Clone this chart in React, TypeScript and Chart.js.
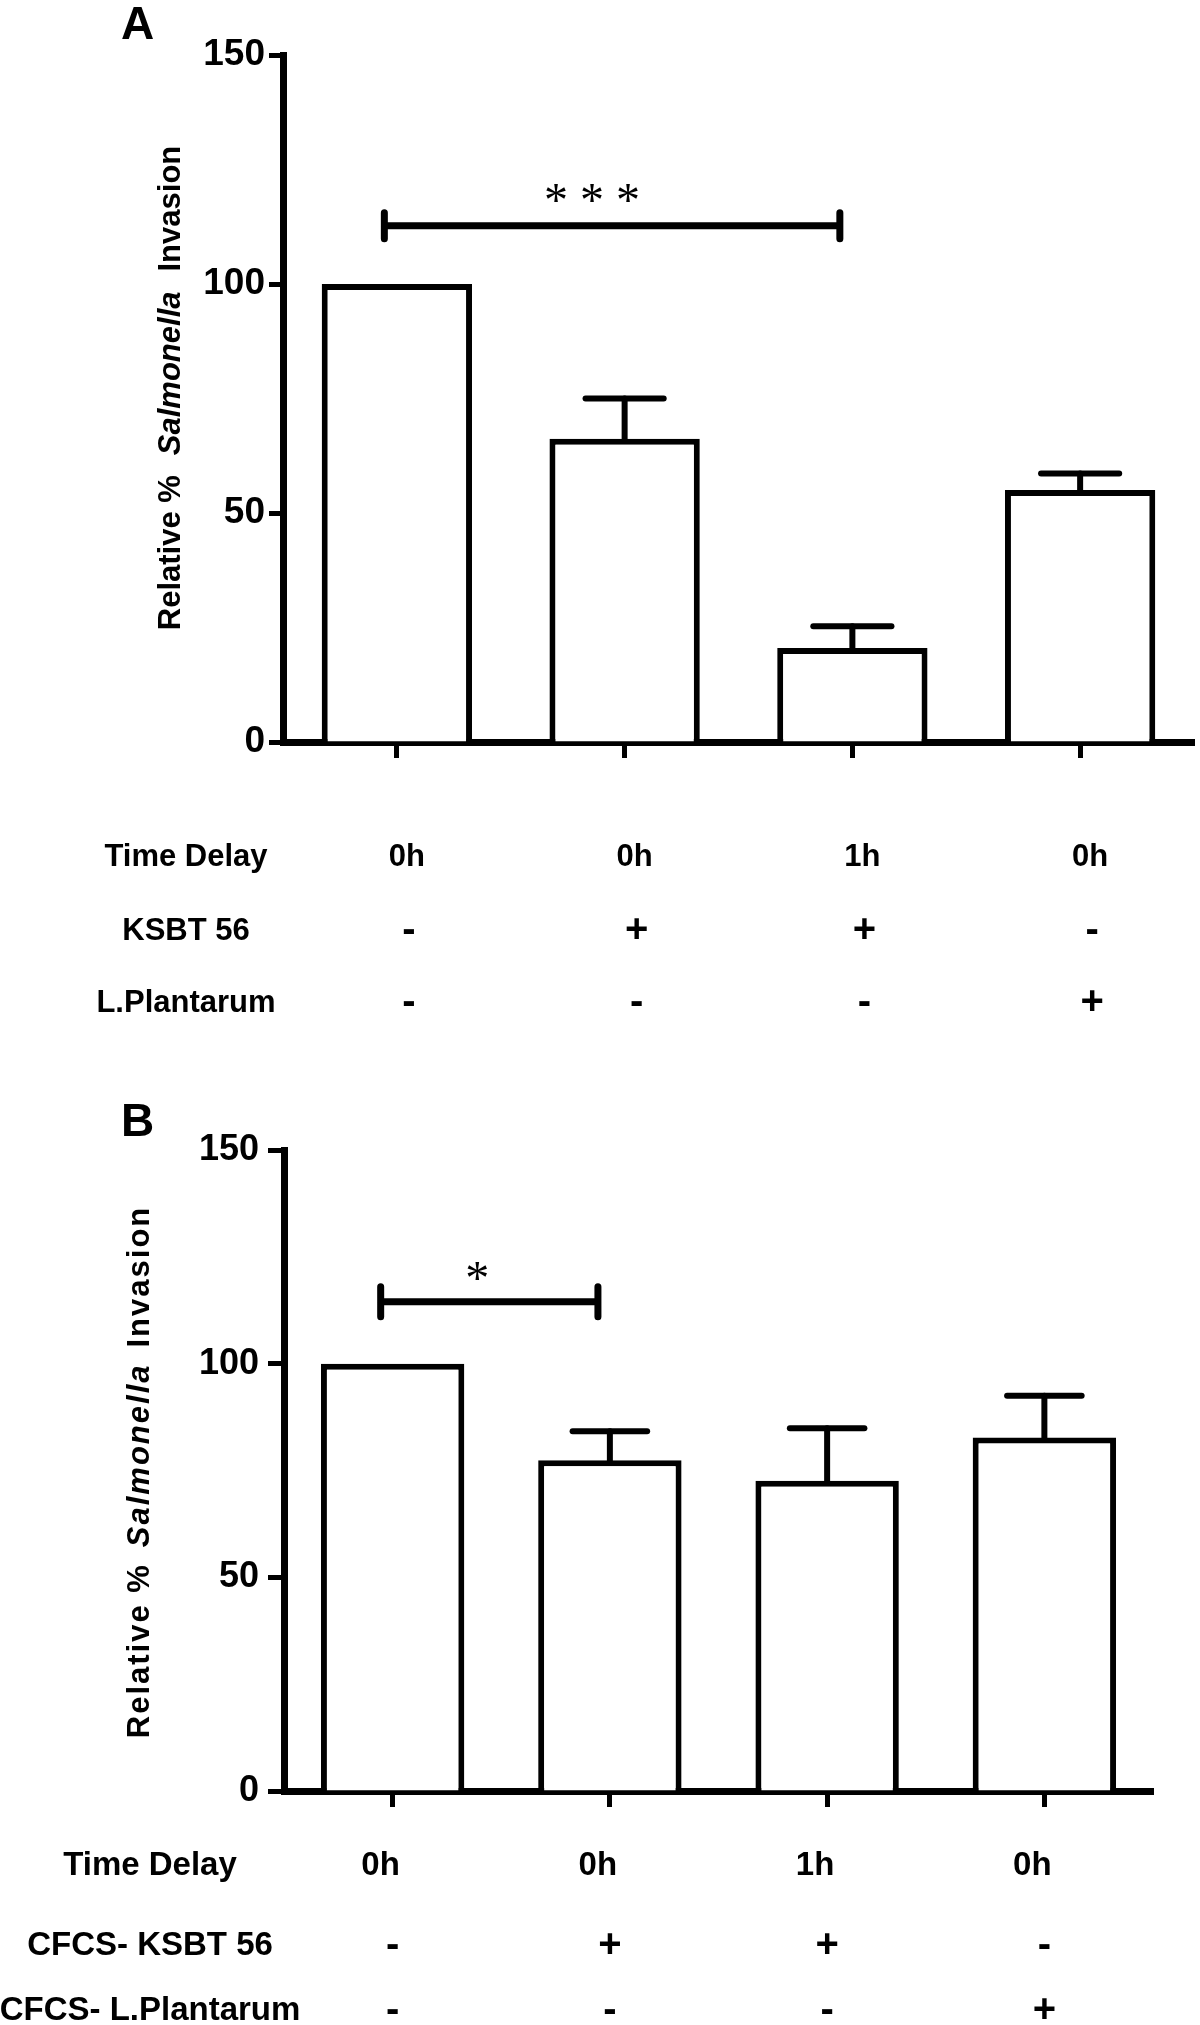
import React, { useEffect, useRef } from 'react';
import { Chart, registerables } from 'chart.js';

Chart.register(...registerables);

// ---------- data ----------
const categories = ['Control 0h', 'KSBT 56 0h', 'KSBT 56 1h', 'L.Plantarum 0h'];
const valuesA = [100, 66.2, 20.5, 55.0];
const errorsA = [0, 8.8, 4.8, 3.6];
const valuesB = [100, 77.4, 72.6, 82.7];
const errorsB = [0, 6.8, 12.3, 9.8];
const yMin = 0;
const yMax = 150;
const yStep = 50;
const timeDelay = ['0h', '0h', '1h', '0h'];
const ksbtRow = ['-', '+', '+', '-'];
const plantarumRow = ['-', '-', '-', '+'];
const rowLabelsA = ['Time Delay', 'KSBT 56', 'L.Plantarum'];
const rowLabelsB = ['Time Delay', 'CFCS- KSBT 56', 'CFCS- L.Plantarum'];
const sigA = { from: 0, to: 2, y: 112.7, label: '* * *' };
const sigB = { from: 0, to: 1, y: 114.5, label: '*' };
const titleParts = [
  { text: 'Relative %', italic: false },
  { text: 'Salmonella', italic: true },
  { text: 'Invasion', italic: false },
];

const SANS = '"Liberation Sans", Arial, Helvetica, sans-serif';
const SERIF = '"Liberation Serif", "Times New Roman", serif';

type Panel = {
  letter: string;
  values: number[];
  errors: number[];
  sig: { from: number; to: number; y: number; label: string };
  rowLabels: string[];
  height: number;
  top: number;
  areaTop: number;
  areaBottom: number;
  areaRight: number;
  yAxisWidth: number;
  tickFont: number;
  tickLen: number;
  tickPad: number;
  letterX: number;
  letterY: number;
  titleX: number;
  titleY: number;
  titleFont: number;
  titleSpacing: number;
  titleGap: number;
  rowsY: number[];
  labelX: number;
  valueOffsets: number[];
  rowFont: number;
  signFont: number;
  starOffset: number;
  starFont: number;
  starRise: number;
  bracketHalf: number;
};

const panelA: Panel = {
  letter: 'A',
  values: valuesA,
  errors: errorsA,
  sig: sigA,
  rowLabels: rowLabelsA,
  height: 1060,
  top: 0,
  areaTop: 55,
  areaBottom: 742,
  areaRight: 1194,
  yAxisWidth: 283,
  tickFont: 37,
  tickLen: 14,
  tickPad: 4,
  letterX: 121,
  letterY: 39,
  titleX: 171,
  titleY: 388,
  titleFont: 31,
  titleSpacing: 0,
  titleGap: 20,
  rowsY: [857, 931, 1003],
  labelX: 186,
  valueOffsets: [10, 12, 12],
  rowFont: 31,
  signFont: 40,
  starOffset: -20,
  starFont: 48,
  starRise: 32,
  bracketHalf: 13,
};

const panelB: Panel = {
  letter: 'B',
  values: valuesB,
  errors: errorsB,
  sig: sigB,
  rowLabels: rowLabelsB,
  height: 965,
  top: 1060,
  areaTop: 90,
  areaBottom: 731,
  areaRight: 1153,
  yAxisWidth: 284,
  tickFont: 36,
  tickLen: 16,
  tickPad: 9,
  letterX: 121,
  letterY: 76,
  titleX: 140,
  titleY: 412,
  titleFont: 31,
  titleSpacing: 2,
  titleGap: 16,
  rowsY: [806, 886, 951],
  labelX: 150,
  valueOffsets: [-12, 0, 0],
  rowFont: 33,
  signFont: 40,
  starOffset: -12,
  starFont: 48,
  starRise: 30,
  bracketHalf: 15,
};

function makePlugin(P: Panel) {
  return {
    id: 'panelDecor' + P.letter,
    afterDatasetsDraw(chart: any) {
      const ctx = chart.ctx as CanvasRenderingContext2D;
      const xs = chart.scales.x;
      const ys = chart.scales.y;
      const meta = chart.getDatasetMeta(0);
      ctx.save();
      ctx.strokeStyle = '#000';
      ctx.fillStyle = '#000';
      ctx.lineCap = 'round';
      // error bars
      ctx.lineWidth = 6;
      meta.data.forEach((bar: any, i: number) => {
        const e = P.errors[i];
        if (!e) return;
        const x = bar.x;
        const yTop = ys.getPixelForValue(P.values[i]);
        const yErr = ys.getPixelForValue(P.values[i] + e);
        const half = bar.width * 0.26;
        ctx.beginPath();
        ctx.moveTo(x, yTop);
        ctx.lineTo(x, yErr);
        ctx.stroke();
        ctx.beginPath();
        ctx.moveTo(x - half, yErr);
        ctx.lineTo(x + half, yErr);
        ctx.stroke();
      });
      // significance bracket
      ctx.lineWidth = 7;
      const x1 = xs.getPixelForValue(P.sig.from - 0.055);
      const x2 = xs.getPixelForValue(P.sig.to - 0.055);
      const yb = ys.getPixelForValue(P.sig.y);
      ctx.beginPath();
      ctx.moveTo(x1, yb);
      ctx.lineTo(x2, yb);
      ctx.moveTo(x1, yb - P.bracketHalf);
      ctx.lineTo(x1, yb + P.bracketHalf);
      ctx.moveTo(x2, yb - P.bracketHalf);
      ctx.lineTo(x2, yb + P.bracketHalf);
      ctx.stroke();
      ctx.font = `${P.starFont}px ${SERIF}`;
      ctx.textAlign = 'center';
      ctx.textBaseline = 'alphabetic';
      ctx.fillText(P.sig.label, (x1 + x2) / 2 + P.starOffset, yb - P.starRise + P.starFont * 0.47);
      ctx.restore();
    },
    afterDraw(chart: any) {
      const ctx = chart.ctx as CanvasRenderingContext2D;
      const xs = chart.scales.x;
      ctx.save();
      ctx.fillStyle = '#000';
      // panel letter
      ctx.font = `bold 46px ${SANS}`;
      ctx.textAlign = 'left';
      ctx.textBaseline = 'alphabetic';
      ctx.fillText(P.letter, P.letterX, P.letterY);
      // y axis title (rotated, mixed italic)
      ctx.save();
      ctx.translate(P.titleX, P.titleY);
      ctx.rotate(-Math.PI / 2);
      (ctx as any).letterSpacing = `${P.titleSpacing}px`;
      const widths = titleParts.map((p) => {
        ctx.font = `${p.italic ? 'italic ' : ''}bold ${P.titleFont}px ${SANS}`;
        return ctx.measureText(p.text).width;
      });
      const total = widths.reduce((a, b) => a + b, 0) + P.titleGap * (titleParts.length - 1);
      let cx = -total / 2;
      ctx.textAlign = 'left';
      ctx.textBaseline = 'middle';
      titleParts.forEach((p, i) => {
        ctx.font = `${p.italic ? 'italic ' : ''}bold ${P.titleFont}px ${SANS}`;
        ctx.fillText(p.text, cx, 0);
        cx += widths[i] + P.titleGap;
      });
      (ctx as any).letterSpacing = '0px';
      ctx.restore();
      // condition table
      ctx.textAlign = 'center';
      ctx.textBaseline = 'middle';
      const rows = [timeDelay, ksbtRow, plantarumRow];
      rows.forEach((row, r) => {
        const y = P.rowsY[r];
        ctx.font = `bold ${P.rowFont}px ${SANS}`;
        ctx.fillText(P.rowLabels[r], P.labelX, y);
        row.forEach((v, i) => {
          const isSign = v === '+' || v === '-';
          ctx.font = `bold ${isSign ? P.signFont : P.rowFont}px ${SANS}`;
          ctx.fillText(v, xs.getPixelForValue(i) + P.valueOffsets[r], y);
        });
      });
      ctx.restore();
    },
  };
}

function PanelChart({ P }: { P: Panel }) {
  const ref = useRef<HTMLCanvasElement | null>(null);
  useEffect(() => {
    if (!ref.current) return;
    const chart = new Chart(ref.current, {
      type: 'bar',
      data: {
        labels: categories,
        datasets: [
          {
            data: P.values,
            backgroundColor: '#ffffff',
            borderColor: '#000000',
            borderWidth: 6,
            borderSkipped: 'start',
            barPercentage: 0.66,
            categoryPercentage: 1,
          },
        ],
      },
      options: {
        responsive: false,
        animation: false,
        devicePixelRatio: 1,
        layout: {
          padding: {
            left: 0,
            top: P.areaTop,
            right: 1200 - P.areaRight,
            bottom: P.height - P.areaBottom - 20,
          },
        },
        plugins: {
          legend: { display: false },
          tooltip: { enabled: false },
          title: { display: false },
        },
        scales: {
          x: {
            type: 'category',
            offset: true,
            grid: {
              display: true,
              drawOnChartArea: false,
              drawTicks: true,
              tickLength: 16,
              tickWidth: 5,
              tickColor: '#000',
              offset: false,
            },
            border: { display: true, width: 7, color: '#000' },
            ticks: { display: false },
            afterFit: (s: any) => {
              s.height = 20;
            },
          },
          y: {
            min: yMin,
            max: yMax,
            ticks: {
              stepSize: yStep,
              color: '#000',
              padding: P.tickPad,
              font: { family: SANS, size: P.tickFont, weight: 'bold' },
            },
            grid: {
              display: true,
              drawOnChartArea: false,
              drawTicks: true,
              tickLength: P.tickLen,
              tickWidth: 5,
              tickColor: '#000',
            },
            border: { display: true, width: 7, color: '#000' },
            afterFit: (s: any) => {
              s.width = P.yAxisWidth;
            },
          },
        },
      } as any,
      plugins: [makePlugin(P)],
    });
    return () => chart.destroy();
  }, [P]);
  return (
    <div style={{ position: 'absolute', left: 0, top: P.top, width: 1200, height: P.height }}>
      <canvas ref={ref} width={1200} height={P.height} style={{ display: 'block' }} />
    </div>
  );
}

export default function App() {
  return (
    <div style={{ position: 'absolute', left: 0, top: 0, width: 1200, height: 2025, background: '#fff' }}>
      <PanelChart P={panelA} />
      <PanelChart P={panelB} />
    </div>
  );
}
